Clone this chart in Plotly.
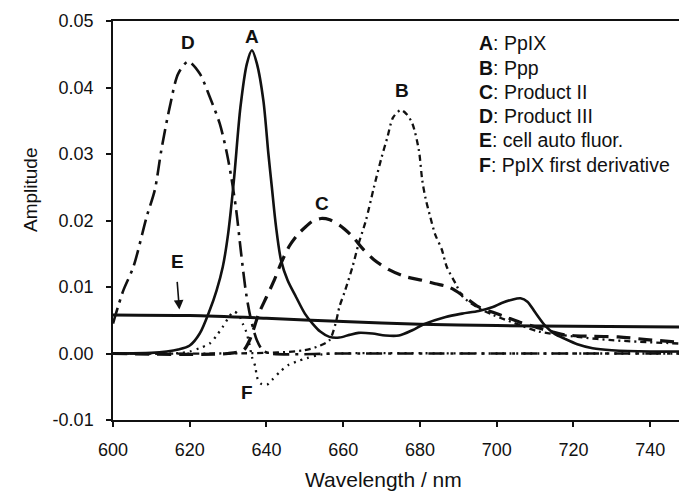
import plotly.graph_objects as go

# Emission spectra (wavelength in nm, amplitude)
wl_a = [600, 610, 614, 617, 620, 622.6, 625.2, 627, 628.6, 630, 631.5, 633.2, 634.9, 636.2,
        637.5, 639.2, 640.5, 641.4, 642.5, 643.8, 645.5, 647.7, 650, 652, 654, 656.4, 659,
        661.6, 664, 667.6, 671, 674.5, 678, 681, 686.7, 691, 695.3, 699, 701.3, 704, 706.2,
        708, 710, 712.6, 715, 717.8, 721, 725, 730, 740, 747.5]
amp_a = [0.0, 0.0001, 0.0003, 0.0006, 0.0012, 0.003, 0.0065, 0.0095, 0.013, 0.018, 0.026,
         0.037, 0.0436, 0.0456, 0.0436, 0.038, 0.030, 0.025, 0.019, 0.014, 0.011, 0.0085,
         0.006, 0.0045, 0.0033, 0.0025, 0.0024, 0.0028, 0.0031, 0.003, 0.0027, 0.0027, 0.0035,
         0.0044, 0.0055, 0.006, 0.0064, 0.007, 0.0076, 0.0081, 0.0083, 0.0078, 0.0062, 0.0042,
         0.003, 0.0022, 0.0014, 0.0008, 0.0005, 0.0003, 0.0003]

wl_b = [600, 640, 650, 654, 656.4, 658, 659, 660.5, 662.4, 664, 665.9, 668, 670, 671.5, 673,
        675, 676.5, 678, 679.7, 680.6, 681.5, 682.7, 683.9, 685.7, 687, 689.3, 691.2, 694.8,
        699, 706, 711, 721, 730, 747.5]
amp_b = [0.0, 0.0001, 0.0005, 0.0012, 0.002, 0.0045, 0.007, 0.0095, 0.013, 0.0165, 0.020,
         0.025, 0.0295, 0.0325, 0.0355, 0.0366, 0.036, 0.0346, 0.0306, 0.026, 0.0232, 0.0205,
         0.018, 0.0156, 0.013, 0.0105, 0.0085, 0.007, 0.0058, 0.0043, 0.0033, 0.0025, 0.002,
         0.0015]

wl_c = [600, 630, 634, 635.6, 638, 640, 642, 643.8, 646, 648, 650.3, 652, 654.2, 656.5, 659,
        662.4, 665, 668, 671.9, 676, 680.6, 684, 687.5, 691, 695.3, 699, 702.3, 706, 710.1,
        714, 717.8, 724, 731.7, 739, 747.5]
amp_c = [0.0, 0.0, 0.0005, 0.002, 0.006, 0.0085, 0.011, 0.0136, 0.0162, 0.0178, 0.0191,
         0.0199, 0.0203, 0.0201, 0.0193, 0.0176, 0.0158, 0.0141, 0.0126, 0.0116, 0.011,
         0.0105, 0.010, 0.0088, 0.007, 0.0062, 0.0055, 0.0047, 0.004, 0.0033, 0.0028, 0.0026,
         0.0025, 0.0021, 0.0017]

wl_d = [600, 602.7, 605.3, 608.8, 610.9, 612.6, 614.8, 617, 619.6, 622.6, 625.2, 627.8,
        629.5, 630.8, 632.1, 633.4, 634.7, 636, 637.5, 639, 641, 660, 700, 747.5]
amp_d = [0.0045, 0.0095, 0.013, 0.0206, 0.0246, 0.0306, 0.0371, 0.0421, 0.0439, 0.0421,
         0.0386, 0.0346, 0.0306, 0.0266, 0.0216, 0.015, 0.009, 0.005, 0.002, 0.0005, 0.0,
         0.0, 0.0, 0.0]

wl_e = [600, 620, 640, 660, 680, 700, 720, 747.5]
amp_e = [0.0058, 0.0057, 0.0053, 0.0048, 0.0044, 0.0042, 0.0041, 0.0040]

wl_f = [600, 615, 618, 620, 622.5, 625.2, 627, 628.6, 630, 631.5, 632.8, 633.8, 634.7,
        635.5, 636.2, 637.1, 637.5, 638.4, 640.1, 641.4, 643.6, 645.8, 647.9, 650.5, 653.8,
        658, 700, 747.5]
amp_f = [0.0, 0.0, 0.0001, 0.0003, 0.0008, 0.0015, 0.0027, 0.004, 0.0053, 0.0063, 0.0058,
         0.0045, 0.0033, 0.0015, -0.0005, -0.002, -0.0035, -0.0045, -0.0047, -0.004,
         -0.0027, -0.0017, -0.0012, -0.0007, -0.0002, 0.0, 0.0, 0.0]

legend_rows = ["<b>A</b>: PpIX", "<b>B</b>: Ppp", "<b>C</b>: Product II",
               "<b>D</b>: Product III", "<b>E</b>: cell auto fluor.",
               "<b>F</b>: PpIX first derivative"]

x_ticks = [600, 620, 640, 660, 680, 700, 720, 740]
y_ticks = [-0.01, 0.0, 0.01, 0.02, 0.03, 0.04, 0.05]
y_tick_text = ["-0.01", "0.00", "0.01", "0.02", "0.03", "0.04", "0.05"]

INK = "#111111"
FONT = "Liberation Sans, Arial, sans-serif"

fig = go.Figure()

series = [
    (wl_d, amp_d, dict(width=2.6, dash="16px,6px,3px,6px")),
    (wl_b, amp_b, dict(width=2.3, dash="6px,4px,2px,4px")),
    (wl_c, amp_c, dict(width=3.2, dash="14px,8px")),
    (wl_f, amp_f, dict(width=2.3, dash="2px,5px")),
    (wl_e, amp_e, dict(width=3)),
    (wl_a, amp_a, dict(width=2.6)),
]
for xs, ys, ln in series:
    fig.add_trace(go.Scatter(x=xs, y=ys, mode="lines", line_shape="spline",
                             line=dict(color=INK, smoothing=0.8, **ln), showlegend=False,
                             hoverinfo="skip"))

# curve labels
curve_labels = [("A", 636.2, 0.0476), ("D", 619.6, 0.0467), ("B", 675.3, 0.0396),
                ("C", 654.5, 0.0226), ("F", 634.9, -0.0059)]
for t, lx, ly in curve_labels:
    fig.add_annotation(x=lx, y=ly, text=f"<b>{t}</b>", showarrow=False,
                       font=dict(family=FONT, size=19, color=INK))

# E label with arrow pointing at the autofluorescence line
fig.add_annotation(x=617.3, y=0.0066, ax=616.7, ay=0.0110, axref="x", ayref="y",
                   text="", showarrow=True, arrowhead=2, arrowsize=1.2, arrowwidth=1.6,
                   arrowcolor=INK)
fig.add_annotation(x=616.7, y=0.0138, text="<b>E</b>", showarrow=False,
                   font=dict(family=FONT, size=19, color=INK))

# key to the curves
for i, row in enumerate(legend_rows):
    fig.add_annotation(xref="paper", yref="paper", x=(477 - 113) / 566,
                       y=(420 - (43.5 + 24.2 * i)) / 399, xanchor="left", yanchor="middle",
                       text=row, showarrow=False, font=dict(family=FONT, size=19.5, color=INK))

# axis titles
fig.add_annotation(xref="paper", yref="paper", x=(30 - 113) / 566, y=(420 - 190) / 399,
                   xanchor="center", yanchor="middle",
                   text="Amplitude", textangle=-90, showarrow=False,
                   font=dict(family=FONT, size=19, color=INK))
fig.add_annotation(xref="paper", yref="paper", x=(383 - 113) / 566, y=(420 - 479) / 399,
                   xanchor="center", yanchor="middle",
                   text="Wavelength / nm", showarrow=False,
                   font=dict(family=FONT, size=21, color=INK))

fig.update_layout(
    width=679, height=497,
    margin=dict(l=113, r=0, t=21, b=77),
    paper_bgcolor="white", plot_bgcolor="white",
    font=dict(family=FONT, color=INK),
    xaxis=dict(range=[600, 747.5], tickvals=x_ticks, ticks="outside", ticklen=5,
               tickwidth=1.5, tickcolor=INK, showline=True, linecolor=INK, linewidth=2,
               mirror=True, showgrid=False, zeroline=False, ticklabelstandoff=7,
               tickfont=dict(family=FONT, size=18, color=INK)),
    yaxis=dict(range=[-0.01, 0.05], tickvals=y_ticks, ticktext=y_tick_text,
               ticks="outside", ticklen=5, tickwidth=1.5, tickcolor=INK, showline=True,
               linecolor=INK, linewidth=1.5, showgrid=False, zeroline=False,
               ticklabelstandoff=9, tickfont=dict(family=FONT, size=18, color=INK)),
)

fig.write_html("out.html")
